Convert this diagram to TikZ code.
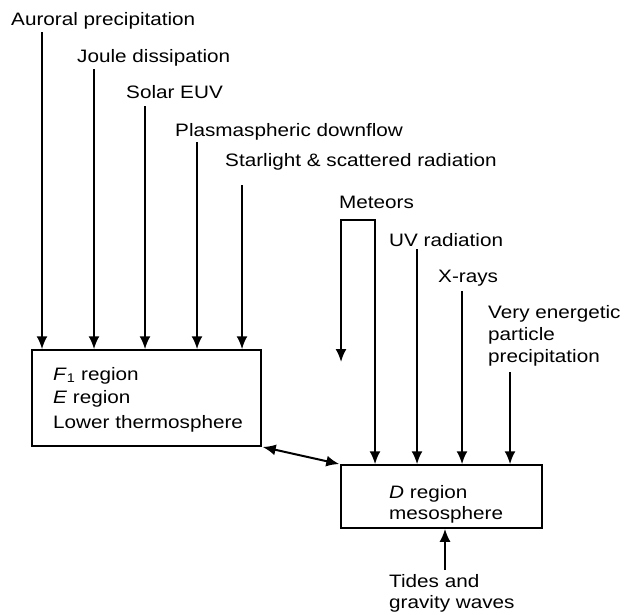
\documentclass[tikz,border=0pt]{standalone}
\usepackage{fontspec}
\setmainfont[FakeStretch=1.15]{Liberation Sans}
\usetikzlibrary{arrows.meta}
\begin{document}
\begin{tikzpicture}[x=1pt,y=1pt]
	\tikzstyle{every node}+=[inner sep=0pt,font=\fontsize{18}{21}\selectfont]
	\tikzstyle{lbl}=[anchor=base west]
	\tikzstyle{regionbox}=[draw=black,line width=1.5pt]
	\tikzstyle{arr}=[black,line width=2pt,-{Latex[length=13pt,width=11pt]}]
	\tikzstyle{dblarr}=[black,line width=2pt,{Latex[length=13pt,width=11pt]}-{Latex[length=13pt,width=11pt]}]
	\useasboundingbox (0,0) rectangle (626,-614);
	\node [regionbox,minimum width=229pt,minimum height=96pt] (upper) at (146.5,-398) {};
	\node [regionbox,minimum width=201pt,minimum height=63pt] (lower) at (441.5,-496.5) {};
	\node [lbl] (auroral) at (11,-25) {Auroral precipitation};
	\node [lbl] (joule) at (77,-62) {Joule dissipation};
	\node [lbl] (euv) at (126,-98) {Solar EUV};
	\node [lbl] (plasma) at (175,-136) {Plasmaspheric downflow};
	\node [lbl] (star) at (225,-166) {Starlight \& scattered radiation};
	\node [lbl] (meteors) at (339,-208) {Meteors};
	\node [lbl] (uv) at (389,-246) {UV radiation};
	\node [lbl] (xrays) at (438,-282) {X-rays};
	\node [lbl] (vep1) at (488,-318) {Very energetic};
	\node [lbl] (vep2) at (488,-340) {particle};
	\node [lbl] (vep3) at (488,-362) {precipitation};
	\node [lbl] (fone) at (53,-380) {\textit{F}\textsubscript{1} region};
	\node [lbl] (eregion) at (53,-403) {\textit{E} region};
	\node [lbl] (lowtherm) at (53,-428) {Lower thermosphere};
	\node [lbl] (dregion) at (389,-498) {\textit{D} region};
	\node [lbl] (meso) at (389,-519) {mesosphere};
	\node [lbl] (tides1) at (389,-587) {Tides and};
	\node [lbl] (tides2) at (389,-608) {gravity waves};
	\coordinate (aur) at (42,-32);
	\coordinate (jou) at (94,-69);
	\coordinate (sol) at (145,-106);
	\coordinate (pla) at (197,-142);
	\coordinate (sta) at (242,-185);
	\coordinate (metL) at (341,-362);
	\coordinate (metR) at (375,-220);
	\coordinate (ultra) at (417,-249);
	\coordinate (xr) at (462,-291);
	\coordinate (part) at (510,-372);
	\coordinate (tid) at (445,-570);
	\draw [arr] (aur) -- (aur |- upper.north);
	\draw [arr] (jou) -- (jou |- upper.north);
	\draw [arr] (sol) -- (sol |- upper.north);
	\draw [arr] (pla) -- (pla |- upper.north);
	\draw [arr] (sta) -- (sta |- upper.north);
	\draw [dblarr] (metL) |- (metR) -- (metR |- lower.north);
	\draw [arr] (ultra) -- (ultra |- lower.north);
	\draw [arr] (xr) -- (xr |- lower.north);
	\draw [arr] (part) -- (part |- lower.north);
	\draw [arr] (tid) -- (tid |- lower.south);
	\draw [dblarr,shorten <=1pt,shorten >=1pt] (upper.south east) -- (lower.north west);
\end{tikzpicture}
\end{document}
